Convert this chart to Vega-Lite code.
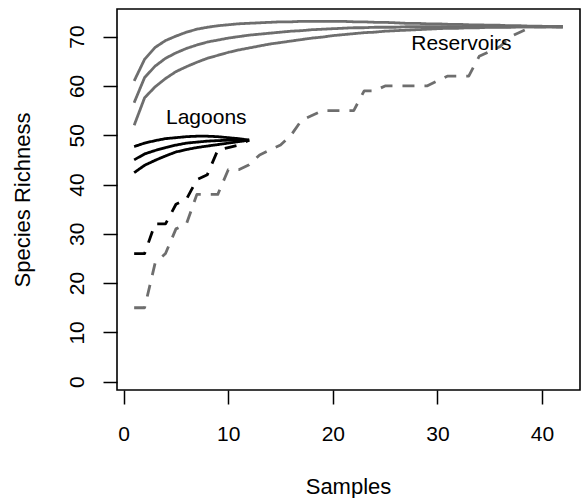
{
  "$schema": "https://vega.github.io/schema/vega-lite/v6.json",
  "autosize": "none",
  "width": 463,
  "height": 381,
  "padding": {"left": 117, "top": 9, "right": 3, "bottom": 108},
  "background": "white",
  "config": {
    "view": {"stroke": "black", "strokeWidth": 1.6},
    "axis": {
      "domain": false,
      "grid": false,
      "ticks": true,
      "tickColor": "black",
      "tickWidth": 1.5,
      "tickSize": 14,
      "labelFont": "Liberation Sans",
      "labelFontSize": 21,
      "labelColor": "black",
      "labelFlush": false,
      "labelOverlap": false,
      "titleFont": "Liberation Sans",
      "titleFontSize": 22,
      "titleFontWeight": "normal",
      "titleColor": "black"
    }
  },
  "layer": [
    {
      "data": {"values": [
        {"s":"RH","x":1,"y":61.0},{"s":"RH","x":2,"y":65.4},{"s":"RH","x":3,"y":67.8},{"s":"RH","x":4,"y":69.2},{"s":"RH","x":5,"y":70.1},{"s":"RH","x":6,"y":70.9},{"s":"RH","x":7,"y":71.5},{"s":"RH","x":8,"y":71.9},{"s":"RH","x":9,"y":72.2},{"s":"RH","x":10,"y":72.4},{"s":"RH","x":11,"y":72.6},{"s":"RH","x":12,"y":72.7},{"s":"RH","x":13,"y":72.8},{"s":"RH","x":14,"y":72.9},{"s":"RH","x":15,"y":73.0},{"s":"RH","x":16,"y":73.0},{"s":"RH","x":17,"y":73.1},{"s":"RH","x":18,"y":73.1},{"s":"RH","x":19,"y":73.1},{"s":"RH","x":20,"y":73.1},{"s":"RH","x":21,"y":73.1},{"s":"RH","x":22,"y":73.0},{"s":"RH","x":23,"y":73.0},{"s":"RH","x":24,"y":72.9},{"s":"RH","x":25,"y":72.9},{"s":"RH","x":26,"y":72.8},{"s":"RH","x":27,"y":72.7},{"s":"RH","x":28,"y":72.7},{"s":"RH","x":29,"y":72.6},{"s":"RH","x":30,"y":72.6},{"s":"RH","x":31,"y":72.5},{"s":"RH","x":32,"y":72.5},{"s":"RH","x":33,"y":72.4},{"s":"RH","x":34,"y":72.4},{"s":"RH","x":35,"y":72.3},{"s":"RH","x":36,"y":72.3},{"s":"RH","x":37,"y":72.2},{"s":"RH","x":38,"y":72.2},{"s":"RH","x":39,"y":72.1},{"s":"RH","x":40,"y":72.1},{"s":"RH","x":41,"y":72.0},{"s":"RH","x":42,"y":72.0},
        {"s":"RM","x":1,"y":56.6},{"s":"RM","x":2,"y":61.7},{"s":"RM","x":3,"y":64.0},{"s":"RM","x":4,"y":65.6},{"s":"RM","x":5,"y":66.7},{"s":"RM","x":6,"y":67.6},{"s":"RM","x":7,"y":68.3},{"s":"RM","x":8,"y":68.9},{"s":"RM","x":9,"y":69.3},{"s":"RM","x":10,"y":69.7},{"s":"RM","x":11,"y":70.0},{"s":"RM","x":12,"y":70.3},{"s":"RM","x":13,"y":70.5},{"s":"RM","x":14,"y":70.7},{"s":"RM","x":15,"y":70.9},{"s":"RM","x":16,"y":71.1},{"s":"RM","x":17,"y":71.2},{"s":"RM","x":18,"y":71.4},{"s":"RM","x":19,"y":71.5},{"s":"RM","x":20,"y":71.6},{"s":"RM","x":21,"y":71.7},{"s":"RM","x":22,"y":71.8},{"s":"RM","x":23,"y":71.8},{"s":"RM","x":24,"y":71.9},{"s":"RM","x":25,"y":71.9},{"s":"RM","x":26,"y":71.9},{"s":"RM","x":27,"y":72.0},{"s":"RM","x":28,"y":72.0},{"s":"RM","x":29,"y":72.0},{"s":"RM","x":30,"y":72.0},{"s":"RM","x":31,"y":72.0},{"s":"RM","x":32,"y":72.0},{"s":"RM","x":33,"y":72.0},{"s":"RM","x":34,"y":72.0},{"s":"RM","x":35,"y":72.0},{"s":"RM","x":36,"y":72.0},{"s":"RM","x":37,"y":72.0},{"s":"RM","x":38,"y":72.0},{"s":"RM","x":39,"y":72.0},{"s":"RM","x":40,"y":72.0},{"s":"RM","x":41,"y":72.0},{"s":"RM","x":42,"y":72.0},
        {"s":"RL","x":1,"y":52.0},{"s":"RL","x":2,"y":57.6},{"s":"RL","x":3,"y":59.8},{"s":"RL","x":4,"y":61.5},{"s":"RL","x":5,"y":62.9},{"s":"RL","x":6,"y":63.9},{"s":"RL","x":7,"y":64.8},{"s":"RL","x":8,"y":65.6},{"s":"RL","x":9,"y":66.2},{"s":"RL","x":10,"y":66.8},{"s":"RL","x":11,"y":67.3},{"s":"RL","x":12,"y":67.7},{"s":"RL","x":13,"y":68.1},{"s":"RL","x":14,"y":68.5},{"s":"RL","x":15,"y":68.8},{"s":"RL","x":16,"y":69.1},{"s":"RL","x":17,"y":69.4},{"s":"RL","x":18,"y":69.7},{"s":"RL","x":19,"y":69.9},{"s":"RL","x":20,"y":70.2},{"s":"RL","x":21,"y":70.4},{"s":"RL","x":22,"y":70.6},{"s":"RL","x":23,"y":70.8},{"s":"RL","x":24,"y":70.9},{"s":"RL","x":25,"y":71.1},{"s":"RL","x":26,"y":71.2},{"s":"RL","x":27,"y":71.3},{"s":"RL","x":28,"y":71.4},{"s":"RL","x":29,"y":71.5},{"s":"RL","x":30,"y":71.6},{"s":"RL","x":31,"y":71.7},{"s":"RL","x":32,"y":71.7},{"s":"RL","x":33,"y":71.8},{"s":"RL","x":34,"y":71.8},{"s":"RL","x":35,"y":71.9},{"s":"RL","x":36,"y":71.9},{"s":"RL","x":37,"y":71.9},{"s":"RL","x":38,"y":72.0},{"s":"RL","x":39,"y":72.0},{"s":"RL","x":40,"y":72.0},{"s":"RL","x":41,"y":72.0},{"s":"RL","x":42,"y":72.0},
        {"s":"RO","x":1,"y":15},{"s":"RO","x":2,"y":15},{"s":"RO","x":3,"y":24},{"s":"RO","x":4,"y":26},{"s":"RO","x":5,"y":31},{"s":"RO","x":6,"y":32},{"s":"RO","x":7,"y":38},{"s":"RO","x":8,"y":38},{"s":"RO","x":9,"y":38},{"s":"RO","x":10,"y":43},{"s":"RO","x":11,"y":43},{"s":"RO","x":12,"y":44},{"s":"RO","x":13,"y":46},{"s":"RO","x":14,"y":47},{"s":"RO","x":15,"y":48},{"s":"RO","x":16,"y":50},{"s":"RO","x":17,"y":53},{"s":"RO","x":18,"y":54},{"s":"RO","x":19,"y":55},{"s":"RO","x":20,"y":55},{"s":"RO","x":21,"y":55},{"s":"RO","x":22,"y":55},{"s":"RO","x":23,"y":59},{"s":"RO","x":24,"y":59},{"s":"RO","x":25,"y":60},{"s":"RO","x":26,"y":60},{"s":"RO","x":27,"y":60},{"s":"RO","x":28,"y":60},{"s":"RO","x":29,"y":60},{"s":"RO","x":30,"y":61},{"s":"RO","x":31,"y":62},{"s":"RO","x":32,"y":62},{"s":"RO","x":33,"y":62},{"s":"RO","x":34,"y":66},{"s":"RO","x":35,"y":67},{"s":"RO","x":36,"y":68},{"s":"RO","x":37,"y":70},{"s":"RO","x":38,"y":71},{"s":"RO","x":39,"y":72},{"s":"RO","x":40,"y":72},{"s":"RO","x":41,"y":72},{"s":"RO","x":42,"y":72},
        {"s":"LH","x":1,"y":47.7},{"s":"LH","x":2,"y":48.4},{"s":"LH","x":3,"y":48.9},{"s":"LH","x":4,"y":49.3},{"s":"LH","x":5,"y":49.5},{"s":"LH","x":6,"y":49.7},{"s":"LH","x":7,"y":49.8},{"s":"LH","x":8,"y":49.8},{"s":"LH","x":9,"y":49.7},{"s":"LH","x":10,"y":49.5},{"s":"LH","x":11,"y":49.3},{"s":"LH","x":12,"y":49.0},
        {"s":"LM","x":1,"y":45.0},{"s":"LM","x":2,"y":46.2},{"s":"LM","x":3,"y":46.9},{"s":"LM","x":4,"y":47.5},{"s":"LM","x":5,"y":48.0},{"s":"LM","x":6,"y":48.4},{"s":"LM","x":7,"y":48.6},{"s":"LM","x":8,"y":48.8},{"s":"LM","x":9,"y":48.9},{"s":"LM","x":10,"y":49.0},{"s":"LM","x":11,"y":49.0},{"s":"LM","x":12,"y":49.0},
        {"s":"LL","x":1,"y":42.4},{"s":"LL","x":2,"y":43.9},{"s":"LL","x":3,"y":44.9},{"s":"LL","x":4,"y":45.8},{"s":"LL","x":5,"y":46.6},{"s":"LL","x":6,"y":47.1},{"s":"LL","x":7,"y":47.5},{"s":"LL","x":8,"y":47.8},{"s":"LL","x":9,"y":48.1},{"s":"LL","x":10,"y":48.4},{"s":"LL","x":11,"y":48.7},{"s":"LL","x":12,"y":49.0},
        {"s":"LO","x":1,"y":26},{"s":"LO","x":2,"y":26},{"s":"LO","x":3,"y":32},{"s":"LO","x":4,"y":32},{"s":"LO","x":5,"y":36},{"s":"LO","x":6,"y":37},{"s":"LO","x":7,"y":41},{"s":"LO","x":8,"y":42},{"s":"LO","x":9,"y":47},{"s":"LO","x":10,"y":47.5},{"s":"LO","x":11,"y":48},{"s":"LO","x":12,"y":49}
      ]},
      "mark": {"type": "line", "strokeWidth": 2.8, "strokeCap": "butt", "strokeJoin": "round", "clip": true},
      "encoding": {
        "x": {
          "field": "x", "type": "quantitative",
          "scale": {"domain": [-0.64, 43.64], "nice": false, "zero": false},
          "axis": {"values": [0, 10, 20, 30, 40], "title": "Samples", "labelBaseline": "alphabetic", "labelPadding": 36, "titleBaseline": "alphabetic", "titleX": 231, "titleY": 103, "titleAnchor": "middle"}
        },
        "y": {
          "field": "y", "type": "quantitative",
          "scale": {"domain": [-1.68, 75.6], "nice": false, "zero": false},
          "axis": {"values": [0, 10, 20, 30, 40, 50, 60, 70], "title": "Species Richness", "labelAngle": -90, "labelAlign": "center", "labelBaseline": "alphabetic", "labelPadding": 20, "titleAngle": -90, "titleAlign": "center", "titleBaseline": "alphabetic", "titleX": -88, "titleY": 190.5}
        },
        "detail": {"field": "s"},
        "color": {
          "field": "s", "type": "nominal", "legend": null,
          "scale": {"domain": ["RH","RM","RL","RO","LH","LM","LL","LO"], "range": ["#6e6e6e","#6e6e6e","#6e6e6e","#6e6e6e","#000000","#000000","#000000","#000000"]}
        },
        "strokeDash": {
          "field": "s", "type": "nominal", "legend": null,
          "scale": {"domain": ["RH","RM","RL","RO","LH","LM","LL","LO"], "range": [[1,0],[1,0],[1,0],[12,10],[1,0],[1,0],[1,0],[12,10]]}
        }
      }
    },
    {
      "data": {"values": [
        {"label": "Lagoons", "x": 7.9, "y": 53.4},
        {"label": "Reservoirs", "x": 32.3, "y": 68.6}
      ]},
      "mark": {"type": "text", "font": "Liberation Sans", "fontSize": 21, "align": "center", "baseline": "middle", "color": "black"},
      "encoding": {
        "x": {"field": "x", "type": "quantitative"},
        "y": {"field": "y", "type": "quantitative"},
        "text": {"field": "label"}
      }
    }
  ]
}
